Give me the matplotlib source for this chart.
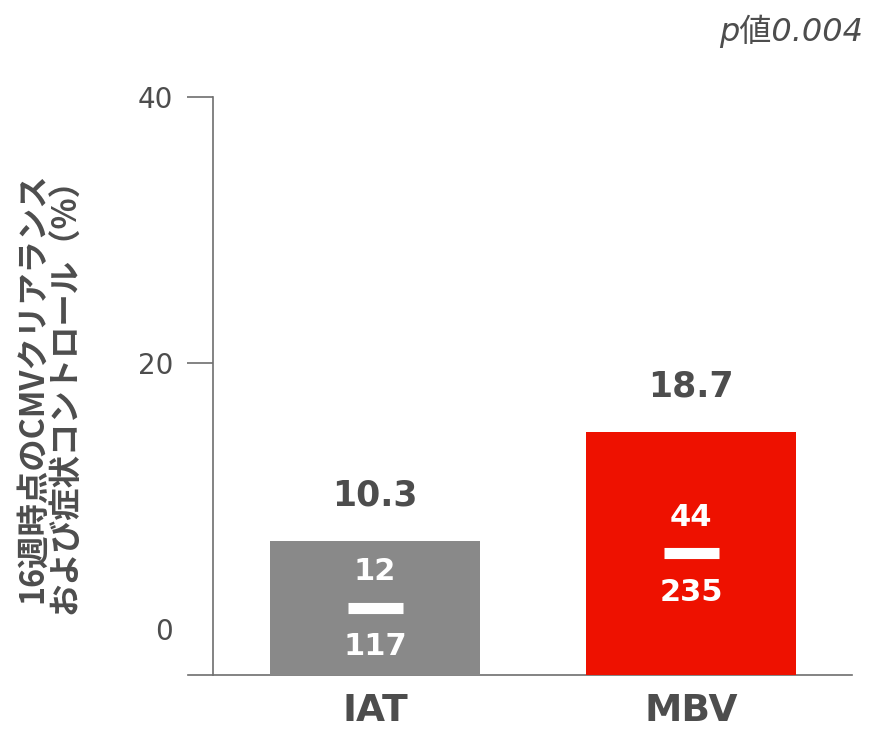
import matplotlib
matplotlib.use('Agg')
import matplotlib.pyplot as plt

# data
groups = ['IAT', 'MBV']
rates = [10.3, 18.7]           # % CMV clearance + symptom control at week 16
responders = [12, 44]
totals = [117, 235]
bar_colors = ['#898989', '#ee1100']
y_ticks = [0, 20, 40]
p_text = 'p値0.004'
y_title = '16週時点のCMVクリアランス\nおよび症状コントロール（%）'

txt = '#4d4d4d'
axcol = '#6e6e6e'
plt.rcParams['font.family'] = ['DejaVu Sans', 'Noto Sans CJK JP']

fig = plt.figure(figsize=(8.69, 7.31), dpi=100)
W, H = 869, 731
ax = fig.add_axes([188 / W, 1 - 675 / H, (852 - 188) / W, (675 - 97) / H])

# tick axis (the scale printed on the left); 0 has a label but no tick mark
ax.set_ylim(-3.46, 40)
ax.set_xlim(-0.592, 1.509)
marked = [t for t in y_ticks if t != 0]
ax.set_yticks(marked)
ax.set_yticklabels([str(t) for t in marked])
ax.set_yticks([0], minor=True)
ax.set_yticklabels(['0'], minor=True)
ax.tick_params(axis='y', which='major', direction='out', length=18.7, width=1.2,
               color=axcol, labelsize=20, labelcolor=txt, pad=10)
ax.tick_params(axis='y', which='minor', length=0, labelsize=20, labelcolor=txt,
               pad=10 + 18.7)
ax.set_xticks(range(len(groups)))
ax.set_xticklabels(groups, fontsize=27, fontweight='bold', color=txt)
ax.tick_params(axis='x', length=0, pad=13)
for s in ['top', 'right']:
    ax.spines[s].set_visible(False)
ax.spines['left'].set_position(('axes', 25 / 664))
ax.spines['left'].set_color(axcol)
ax.spines['bottom'].set_color(axcol)
ax.spines['left'].set_linewidth(1.2)
ax.spines['bottom'].set_linewidth(1.2)

# bars sit on their own scale from the bottom line
ax2 = ax.twinx()
ax2.set_ylim(0, 578 / 13.0)
ax2.set_yticks([])
for s in ax2.spines.values():
    s.set_visible(False)
x = list(range(len(groups)))
ax2.bar(x, rates, width=0.665, color=bar_colors, zorder=2)

for i in x:
    h = rates[i]
    ax2.annotate(f'{h}', (i, h), xytext=(0, 33), textcoords='offset points',
                 ha='center', va='center', fontsize=25, fontweight='bold', color=txt)
    ax2.plot([i - 0.087, i + 0.087], [h / 2, h / 2], color='white', lw=8,
             solid_capstyle='butt', zorder=3)
    ax2.annotate(str(responders[i]), (i, h / 2), xytext=(0, 26), textcoords='offset points',
                 ha='center', va='center', fontsize=22, fontweight='bold', color='white')
    ax2.annotate(str(totals[i]), (i, h / 2), xytext=(0, -28), textcoords='offset points',
                 ha='center', va='center', fontsize=22, fontweight='bold', color='white')

fig.text(49 / W, 1 - 388 / H, y_title, rotation=90, ha='center', va='center',
         multialignment='center', fontsize=23.3, fontweight='bold', color=txt,
         family=['Noto Sans CJK JP', 'DejaVu Sans'], linespacing=1.0)
fig.text(863 / W, 1 - 31 / H, p_text, ha='right', va='center', fontsize=23,
         style='italic', color=txt)

fig.savefig('out.png', dpi=100)
